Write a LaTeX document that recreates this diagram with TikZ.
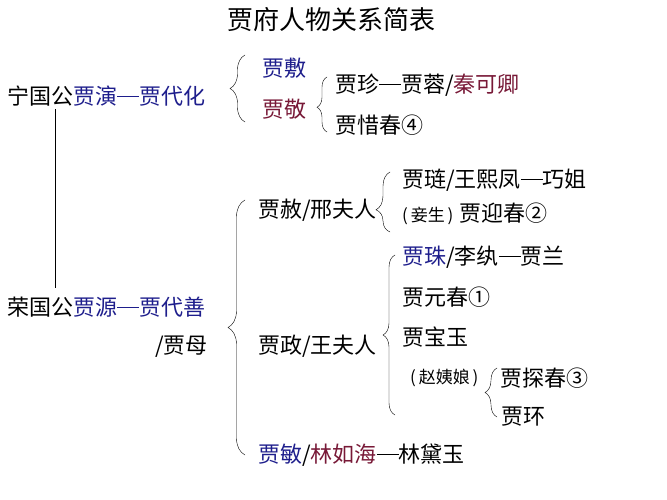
\documentclass[tikz,border=0pt]{standalone}
\usepackage{fontspec}
\setmainfont{Noto Sans CJK SC}
\usepackage{xcolor}
\usepackage{tikz}
\usetikzlibrary{calc, decorations.pathreplacing}

\definecolor{jiablue}{RGB}{30,30,140}
\definecolor{jiared}{RGB}{120,25,55}
\newcommand{\lianxian}{\rule[0.34em]{1em}{0.05em}}

\begin{document}
\begin{tikzpicture}[x=1pt, y=-1pt,
    renwu/.style={anchor=west, inner sep=0pt, font=\fontsize{22}{24}\selectfont},
    note/.style={font=\fontsize{17}{19}\selectfont},
    kuohao/.style={decorate, thin, decoration={brace, amplitude=#1}},
    kuohao/.default=14]
    \useasboundingbox (0,0) rectangle (667,500);

    % 1. Tiêu đề
    \node[inner sep=0pt, font=\fontsize{26}{28}\selectfont] (title) at (331,20) {贾府人物关系简表};

    % 2. Hai nhánh tổ tiên
    \node[renwu] (ningguo) at (7,96) {宁国公\textcolor{jiablue}{贾演\lianxian 贾代化}};
    \node[renwu] (rongguo) at (7,307) {荣国公\textcolor{jiablue}{贾源\lianxian 贾代善}};
    \node[renwu] (jiamu) at (155,347) {/贾母};
    \draw ($(ningguo.south west)+(48,3)$) -- ($(rongguo.north west)+(48,-9)$);

    % 3. Nhánh Ninh quốc phủ
    \draw[kuohao=15] (245,122) -- (245,55);
    \node[renwu] (jiafu) at (262,68) {\textcolor{jiablue}{贾敷}};
    \node[renwu] (jiajing) at (262,109) {\textcolor{jiared}{贾敬}};
    \draw[kuohao=10, decoration={aspect=0.45}] (327,132) -- (327,77);
    \node[renwu] (jiazhen) at (335,85) {贾珍\lianxian 贾蓉/\textcolor{jiared}{秦可卿}};
    \node[renwu] (xichun) at (335,125) {贾惜春④};

    % 4. Nhánh Vinh quốc phủ
    \draw[kuohao=17] (245,455) -- (245,200);
    \node[renwu] (jiashe) at (258,210) {贾赦/邢夫人};
    \draw[kuohao=14, decoration={aspect=0.37}] (390,232) -- (390,172);
    \node[renwu] (jialian) at (402,180) {贾琏/王熙凤\lianxian 巧姐};
    \node[renwu] (yingchun) at (402,214) {{\fontsize{17}{19}\selectfont(\,妾生\,)}\hspace{6pt}贾迎春②};

    \node[renwu] (jiazheng) at (258,346) {贾政/王夫人};
    \draw[kuohao=12] (395,415) -- (395,255);
    \node[renwu] (jiazhu) at (402,257) {\textcolor{jiablue}{贾珠}/李纨\lianxian 贾兰};
    \node[renwu] (yuanchun) at (402,297) {贾元春①};
    \node[renwu] (baoyu) at (402,337) {贾宝玉};
    \node[renwu, note] (zhao) at (410,378) {(\,赵姨娘\,)};
    \draw[kuohao=12] (497,417) -- (497,368);
    \node[renwu] (tanchun) at (500,378) {贾探春③};
    \node[renwu] (jiahuan) at (501,417) {贾环};

    \node[renwu] (jiamin) at (258,455) {\textcolor{jiablue}{贾敏}/\textcolor{jiared}{林如海}\lianxian 林黛玉};
\end{tikzpicture}
\end{document}
